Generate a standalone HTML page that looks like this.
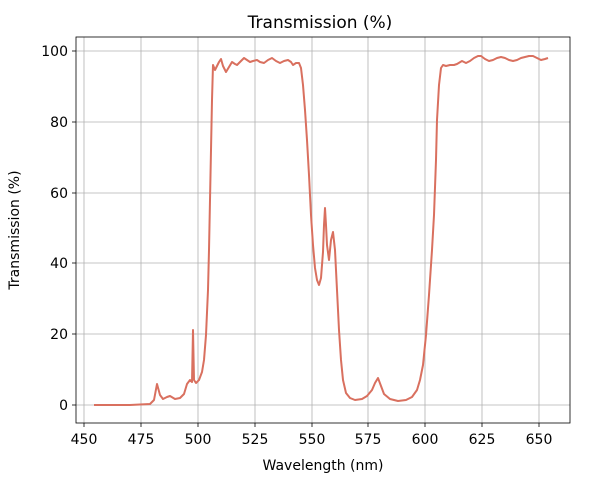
<!DOCTYPE html><html><head><style>body{margin:0;background:#fff}svg{font-family:"DejaVu Sans","Liberation Sans",sans-serif}</style></head><body>
<svg width="600" height="480" xmlns="http://www.w3.org/2000/svg">
<rect width="600" height="480" fill="#fff"/>
<g stroke="#b0b0b0" stroke-width="0.8">
<line x1="84" y1="37" x2="84" y2="423"/><line x1="141" y1="37" x2="141" y2="423"/><line x1="198" y1="37" x2="198" y2="423"/><line x1="255" y1="37" x2="255" y2="423"/><line x1="312" y1="37" x2="312" y2="423"/><line x1="368" y1="37" x2="368" y2="423"/><line x1="425" y1="37" x2="425" y2="423"/><line x1="482" y1="37" x2="482" y2="423"/><line x1="539" y1="37" x2="539" y2="423"/>
<line x1="76" y1="405" x2="570" y2="405"/><line x1="76" y1="334" x2="570" y2="334"/><line x1="76" y1="263" x2="570" y2="263"/><line x1="76" y1="193" x2="570" y2="193"/><line x1="76" y1="122" x2="570" y2="122"/><line x1="76" y1="51" x2="570" y2="51"/>
</g>
<rect x="76" y="37" width="494" height="386" fill="none" stroke="#000" stroke-width="0.8"/>
<g stroke="#000" stroke-width="0.8">
<line x1="84" y1="423" x2="84" y2="427"/><line x1="141" y1="423" x2="141" y2="427"/><line x1="198" y1="423" x2="198" y2="427"/><line x1="255" y1="423" x2="255" y2="427"/><line x1="312" y1="423" x2="312" y2="427"/><line x1="368" y1="423" x2="368" y2="427"/><line x1="425" y1="423" x2="425" y2="427"/><line x1="482" y1="423" x2="482" y2="427"/><line x1="539" y1="423" x2="539" y2="427"/>
<line x1="72" y1="405" x2="76" y2="405"/><line x1="72" y1="334" x2="76" y2="334"/><line x1="72" y1="263" x2="76" y2="263"/><line x1="72" y1="193" x2="76" y2="193"/><line x1="72" y1="122" x2="76" y2="122"/><line x1="72" y1="51" x2="76" y2="51"/>
</g>
<g font-size="14" fill="#000" text-anchor="middle">
<text x="84" y="444">450</text><text x="141" y="444">475</text><text x="198" y="444">500</text><text x="255" y="444">525</text><text x="312" y="444">550</text><text x="368" y="444">575</text><text x="425" y="444">600</text><text x="482" y="444">625</text><text x="539" y="444">650</text>
<text x="323" y="470">Wavelength (nm)</text>
<text x="320" y="28" font-size="17">Transmission (%)</text>
</g>
<g font-size="14" text-anchor="end">
<text x="68" y="410">0</text><text x="68" y="339">20</text><text x="68" y="268">40</text><text x="68" y="198">60</text><text x="68" y="127">80</text><text x="68" y="56">100</text>
</g>
<text transform="translate(19,230) rotate(-90)" font-size="14" text-anchor="middle">Transmission (%)</text>
<polyline fill="none" stroke="#d9705f" stroke-width="2" stroke-linejoin="round" points="94,405 130,405 150,404 154,400 157,384 160,395 163,399 167,397 170,396 175,399 180,398 184,394 187,384 190,380 192,382 193,330 194,380 196,383 199,380 202,372 204,360 206,335 208,290 209,250 210,200 211,150 212,100 213,65 215,70 217,66 219,62 221,59 223,66 226,72 229,67 232,62 235,64 237,65 240,62 244,58 247,60 250,62 253,61 257,60 260,62 264,63 268,60 272,58 276,61 280,63 284,61 288,60 291,62 293,65 296,63 299,63 301,68 303,85 305,110 307,140 309,175 311,215 313,245 315,268 317,280 319,285 321,278 323,252 324,225 325,208 326,225 327,245 329,260 331,240 333,232 335,250 337,290 339,330 341,360 343,380 346,393 350,398 355,400 362,399 367,396 372,390 375,383 378,378 381,386 384,394 390,399 398,401 406,400 412,397 417,390 420,380 423,365 426,335 429,295 432,250 434,215 436,160 437,120 439,85 441,68 443,65 446,66 450,65 454,65 457,64 462,61 466,63 470,61 474,58 478,56 481,56 485,59 489,61 493,60 497,58 501,57 505,58 509,60 513,61 517,60 521,58 525,57 529,56 533,56 537,58 541,60 545,59 548,58"/>
</svg></body></html>
